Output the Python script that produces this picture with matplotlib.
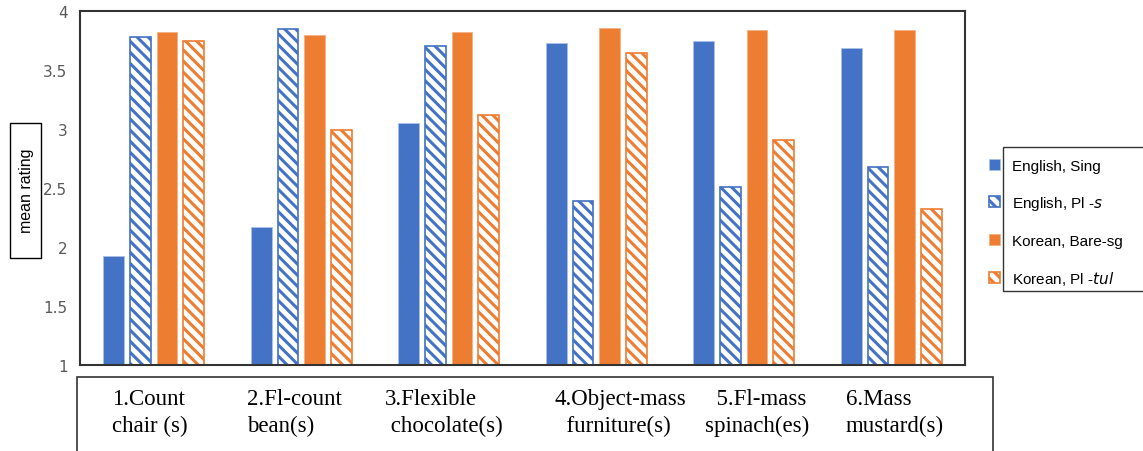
import matplotlib
matplotlib.use("Agg")
from matplotlib import pyplot as plt
import matplotlib.patches as mpatches
import numpy as np

categories = ["1.Count\nchair (s)", "2.Fl-count\nbean(s)", "3.Flexible\n chocolate(s)",
              "4.Object-mass\n  furniture(s)", "  5.Fl-mass\nspinach(es)", "6.Mass\nmustard(s)"]
english_sing = [1.92, 2.17, 3.05, 3.73, 3.75, 3.69]
english_pl = [3.78, 3.85, 3.70, 2.39, 2.51, 2.68]
korean_bare = [3.82, 3.80, 3.82, 3.86, 3.84, 3.84]
korean_pl = [3.75, 2.99, 3.12, 3.64, 2.91, 2.32]
series_names = ["English, Sing", "English, Pl -$\\it{s}$", "Korean, Bare-sg", "Korean, Pl -$\\it{tul}$"]

# where each label starts, relative to group centre (data units)
label_shift = [-0.28, -0.37, -0.43, -0.28, -0.26, -0.31]

BLUE = '#4472C4'
ORANGE = '#ED7D31'
plt.rcParams['hatch.linewidth'] = 2.2

fig = plt.figure(figsize=(11.43, 4.52), dpi=100)
ax = fig.add_axes([80/1143, 86/452, 885/1143, 354/452])

x = np.arange(len(categories))
w = 0.142
step = 0.18
series = [english_sing, english_pl, korean_bare, korean_pl]
styles = [(BLUE, False), (BLUE, True), (ORANGE, False), (ORANGE, True)]
handles = []
for k, (vals, (col, hatched)) in enumerate(zip(series, styles)):
    pos = x + (k - 1.5) * step
    if hatched:
        b = ax.bar(pos, np.array(vals) - 1, w, bottom=1, facecolor='white', edgecolor=col,
                   hatch='\\\\\\', linewidth=1.2, label=series_names[k])
    else:
        b = ax.bar(pos, np.array(vals) - 1, w, bottom=1, color=col, edgecolor='#a9c0e8' if col == BLUE else '#f4b183',
                   linewidth=0.6, label=series_names[k])
    handles.append(b)

ax.set_xlim(-0.5, 5.5)
ax.set_ylim(1, 4)
ax.set_yticks([1, 1.5, 2, 2.5, 3, 3.5, 4])
ax.set_yticklabels(['1', '1.5', '2', '2.5', '3', '3.5', '4'])
ax.tick_params(axis='y', length=0, pad=9, labelsize=11, labelcolor='#595959')
ax.tick_params(axis='x', length=0, labelbottom=False)
for s in ax.spines.values():
    s.set_color('#333333')
    s.set_linewidth(1.5)

# y label in its own box
fig.add_artist(mpatches.Rectangle((10/1143, 1 - 259/452), 31/1143, 135/452,
                                  transform=fig.transFigure, fill=False, edgecolor='black', linewidth=1))
fig.text(26/1143, 1 - 191/452, 'mean rating', rotation=90, ha='center', va='center',
         fontsize=11.5, family='Liberation Sans')

# category labels in a box below
fig.add_artist(mpatches.Rectangle((77/1143, -0.05), (993-77)/1143, (0.05 + 1 - 378/452),
                                  transform=fig.transFigure, fill=False, edgecolor='#333333', linewidth=1.2))
trans = matplotlib.transforms.blended_transform_factory(ax.transData, fig.transFigure)
for i, lab in enumerate(categories):
    ax.text(i + label_shift[i], 1 - 389/452, lab, transform=trans, ha='left', va='top',
            family='Liberation Serif', fontsize=16.5, linespacing=1.35, clip_on=False)

# legend: markers sit outside the text box
fig.add_artist(mpatches.Rectangle((1003/1143, 1 - 292/452), 0.2, (292-148)/452,
                                  transform=fig.transFigure, fill=False, edgecolor='#333333', linewidth=1))
leg = fig.legend(handles=handles, loc='upper left', bbox_to_anchor=(975/1143, 1 - 146/452),
                 frameon=False, handlelength=0.75, handleheight=0.75, handletextpad=0.8,
                 labelspacing=1.4, prop={'family': 'Liberation Sans', 'size': 11})

fig.savefig('out.png', dpi=100)
